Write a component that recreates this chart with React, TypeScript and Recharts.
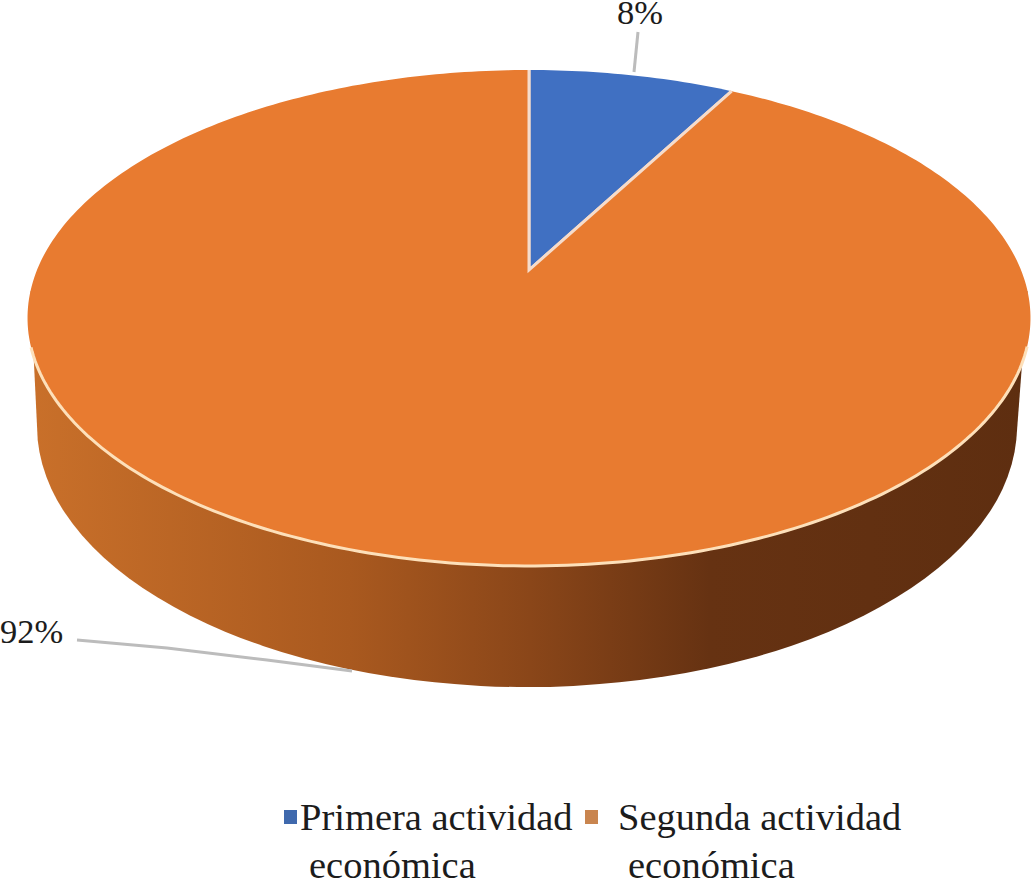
import React from 'react';
import { PieChart, Pie, Cell, Legend } from 'recharts';

const categories = ['Primera actividad económica', 'Segunda actividad económica'];
const shares = [8, 92];
const sliceColors = ['#4070c2', '#e87b30'];
const legendColors = ['#3f69ad', '#c9854f'];

const data = categories.map((name, i) => ({ name, value: shares[i] }));

const FONT = '"Liberation Serif", "Times New Roman", serif';
const TEXT_COLOR = '#1c1c1c';

// perspective of the top face
const CX = 529;
const CY = 270;
const RADIUS = 492;
const PERSP = 0.1935;
const DROP = 186.45;

const project = (deg: number) => {
  const rad = (deg * Math.PI) / 180;
  const den = 1 + PERSP * Math.sin(rad);
  return {
    x: CX + (RADIUS * Math.cos(rad)) / den,
    y: CY + (-DROP * Math.sin(rad) - CY * PERSP * Math.sin(rad)) / den,
  };
};

const topFace = (props: any) => {
  const { startAngle, endAngle, fill } = props;
  const steps = Math.ceil(Math.abs(startAngle - endAngle));
  const pts = [];
  for (let i = 0; i <= steps; i++) {
    pts.push(project(startAngle + ((endAngle - startAngle) * i) / steps));
  }
  const outline = pts.map((p) => `L ${p.x} ${p.y}`).join(' ');
  const rim = pts.filter((p) => p.y > 345);
  const first = pts[0];
  const last = pts[pts.length - 1];
  return (
    <g>
      <path d={`M ${CX} ${CY} ${outline} Z`} fill={fill} />
      <path
        d={`M ${first.x} ${first.y} L ${CX} ${CY} L ${last.x} ${last.y}`}
        fill="none"
        stroke="#f6dccb"
        strokeWidth={3}
      />
      {rim.length > 1 && (
        <path
          d={'M ' + rim.map((p) => `${p.x} ${p.y}`).join(' L ')}
          fill="none"
          stroke="#fde0ba"
          strokeWidth={3}
        />
      )}
    </g>
  );
};

// side wall: only the slice that holds the front of the pie gets one
const wall = (props: any) => {
  if (Math.abs(props.startAngle - props.endAngle) < 180) return <g />;
  const a = project(180 + 5);
  const b = project(-5);
  const d = `M ${a.x} ${a.y} L 37.7 440 A 490 261 0 0 0 1016.3 440 L ${b.x} ${b.y} Z`;
  return (
    <g>
      <defs>
        <linearGradient id="wallFill" gradientUnits="userSpaceOnUse" x1="30" y1="0" x2="1030" y2="0">
          <stop offset="0" stopColor="#c9702a" />
          <stop offset="0.32" stopColor="#a9591f" />
          <stop offset="0.5" stopColor="#8a4619" />
          <stop offset="0.68" stopColor="#663212" />
          <stop offset="1" stopColor="#5e2e10" />
        </linearGradient>
      </defs>
      <path d={d} fill="url(#wallFill)" />
    </g>
  );
};

const labelSpots = [
  { x: 617, y: 24, line: 'M 638 32 L 634 72' },
  { x: 0, y: 643, line: 'M 77 640 L 167 648 L 267 660 L 352 671' },
];

const renderLabel = (props: any) => {
  const spot = labelSpots[props.index];
  return (
    <g>
      <path d={spot.line} fill="none" stroke="#bcbcbc" strokeWidth={3} />
      <text x={spot.x} y={spot.y} fontFamily={FONT} fontSize={34.5} fill={TEXT_COLOR}>
        {Math.round(props.percent * 100)}%
      </text>
    </g>
  );
};

const legendSpots = [
  { box: 284, first: 300, second: 309 },
  { box: 585, first: 618, second: 628 },
];

const renderLegend = () => (
  <div style={{ position: 'relative', width: 1031, height: 95, fontFamily: FONT, fontSize: 38.5, color: TEXT_COLOR }}>
    {categories.map((name, i) => {
      const cut = name.lastIndexOf(' ');
      const spot = legendSpots[i];
      return (
        <React.Fragment key={name}>
          <span style={{ position: 'absolute', left: spot.box, top: 24, width: 13, height: 14, background: legendColors[i] }} />
          <span style={{ position: 'absolute', left: spot.first, top: 11, lineHeight: '40px', whiteSpace: 'nowrap' }}>
            {name.slice(0, cut)}
          </span>
          <span style={{ position: 'absolute', left: spot.second, top: 63, lineHeight: '32px', whiteSpace: 'nowrap' }}>
            {name.slice(cut + 1)}
          </span>
        </React.Fragment>
      );
    })}
  </div>
);

export default function App() {
  return (
    <div style={{ position: 'absolute', left: 0, top: 0, width: 1031, height: 881, overflow: 'hidden', background: '#fff' }}>
      <PieChart width={1031} height={881} margin={{ top: 0, right: 0, bottom: 0, left: 0 }}>
        <Pie
          data={data}
          dataKey="value"
          nameKey="name"
          cx={CX}
          cy={CY}
          outerRadius={RADIUS}
          startAngle={90}
          endAngle={-270}
          shape={wall}
          isAnimationActive={false}
        />
        <Pie
          data={data}
          dataKey="value"
          nameKey="name"
          cx={CX}
          cy={CY}
          outerRadius={RADIUS}
          startAngle={90}
          endAngle={-270}
          shape={topFace}
          label={renderLabel}
          labelLine={false}
          isAnimationActive={false}
        >
          {data.map((d, i) => (
            <Cell key={d.name} fill={sliceColors[i]} />
          ))}
        </Pie>
        <Legend content={renderLegend} wrapperStyle={{ left: 0, top: 786, width: 1031 }} />
      </PieChart>
    </div>
  );
}
